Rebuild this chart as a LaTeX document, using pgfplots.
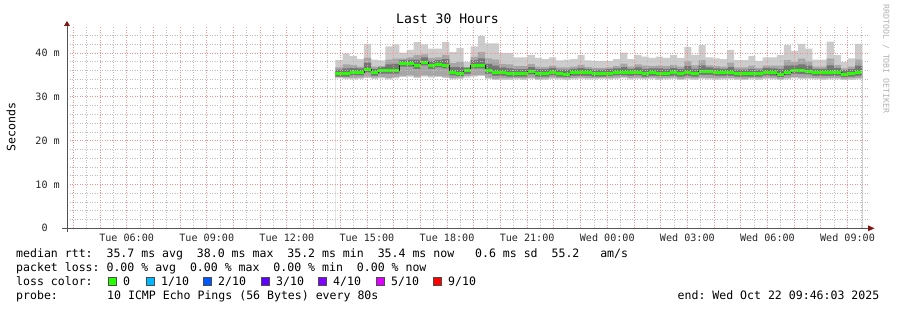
\documentclass[border=0pt]{standalone}
\usepackage{fontspec}
\setmainfont{DejaVu Sans Mono}
\usepackage{pgfplots}
\usepackage{pgfplotstable}
\pgfplotsset{compat=1.18}
\definecolor{smokeA}{RGB}{204,204,204}
\definecolor{smokeB}{RGB}{166,166,166}
\definecolor{smokeC}{RGB}{118,118,118}
\definecolor{lossgreen}{RGB}{38,255,0}
\definecolor{loss1}{RGB}{0,184,255}
\definecolor{loss2}{RGB}{0,89,255}
\definecolor{loss3}{RGB}{94,0,255}
\definecolor{loss4}{RGB}{126,0,255}
\definecolor{loss5}{RGB}{221,0,255}
\definecolor{loss9}{RGB}{255,0,0}
\definecolor{mgrid}{RGB}{245,145,145}
\definecolor{mingrid}{RGB}{190,190,190}
\definecolor{arrowred}{RGB}{128,24,24}
\definecolor{axisgray}{RGB}{85,85,85}
\newcommand{\legfont}{\fontsize{11.55bp}{14bp}\selectfont}
\newcommand{\tickfont}{\fontsize{10.1bp}{12bp}\selectfont}
\newcommand{\titlefont}{\fontsize{13.1bp}{15bp}\selectfont}
\newcommand{\tinyfont}{\fontsize{8.2bp}{10bp}\selectfont}

\pgfplotstableread{
t hi1 hi2 hi3 med lo3 lo2 lo1
13.820 38.4 36.7 36.2 35.3 34.6 34.5 34.2
14.087 39.9 37.4 36.5 35.3 34.6 34.4 34.1
14.353 39.3 37.3 36.6 35.6 34.9 34.3 34.0
14.620 38.6 36.9 36.5 35.6 34.9 34.4 34.1
14.887 42.1 38.9 37.8 36.3 35.6 34.6 34.3
15.153 38.5 36.9 36.4 35.5 34.8 34.4 34.1
15.420 38.3 37.0 36.8 36.0 35.3 34.5 34.2
15.687 41.5 38.5 37.4 36.0 35.3 34.3 34.0
15.953 42.0 38.7 37.5 36.0 35.3 34.5 34.2
16.220 40.1 38.7 38.4 37.6 36.9 34.8 34.5
16.487 40.7 39.0 38.5 37.6 36.9 34.9 34.6
16.753 42.5 39.5 38.5 37.1 36.4 34.6 34.3
17.020 42.0 39.7 39.0 37.9 37.2 34.9 34.6
17.287 41.0 38.9 38.2 37.1 36.4 34.7 34.4
17.553 41.0 39.0 38.4 37.4 36.7 34.8 34.5
17.820 42.5 39.6 38.6 37.2 36.5 34.6 34.3
18.087 40.2 37.7 36.8 35.6 34.9 34.3 34.0
18.353 41.1 38.0 36.8 35.4 34.7 34.4 34.1
18.620 38.0 36.8 36.6 35.9 35.2 34.7 34.4
18.887 41.5 39.1 38.4 37.2 36.5 34.9 34.6
19.153 43.9 40.2 38.8 37.2 36.5 35.0 34.7
19.420 42.2 38.8 37.5 36.0 35.3 34.4 34.1
19.687 42.2 38.5 37.1 35.5 34.8 34.1 33.8
19.953 40.0 37.5 36.7 35.5 34.8 34.2 33.9
20.220 40.0 37.4 36.5 35.3 34.6 34.2 33.9
20.487 39.0 37.0 36.3 35.3 34.6 34.3 34.0
20.753 39.0 37.0 36.3 35.3 34.6 34.2 33.9
21.020 39.5 37.5 36.8 35.8 35.1 34.4 34.1
21.287 38.9 36.9 36.3 35.3 34.6 34.1 33.8
21.553 38.6 36.8 36.3 35.3 34.6 34.2 33.9
21.820 39.0 37.1 36.6 35.6 34.9 34.4 34.1
22.087 38.3 36.7 36.2 35.3 34.6 34.3 34.0
22.353 38.5 36.7 36.2 35.2 34.5 34.2 33.9
22.620 38.6 36.9 36.4 35.5 34.8 34.3 34.0
22.887 39.5 37.3 36.6 35.5 34.8 34.4 34.1
23.153 38.3 36.8 36.4 35.5 34.8 34.3 34.0
23.420 38.2 36.6 36.2 35.3 34.6 34.3 34.0
23.687 38.2 36.6 36.2 35.3 34.6 34.4 34.1
23.953 38.2 36.7 36.3 35.4 34.7 34.3 34.0
24.220 38.6 37.0 36.5 35.6 34.9 34.4 34.1
24.487 40.1 37.6 36.8 35.6 34.9 34.5 34.2
24.753 38.6 36.9 36.4 35.5 34.8 34.3 34.0
25.020 39.5 37.4 36.7 35.6 34.9 34.4 34.1
25.287 39.2 37.1 36.4 35.3 34.6 34.3 34.0
25.553 38.9 37.0 36.5 35.5 34.8 34.4 34.1
25.820 39.2 37.1 36.5 35.4 34.7 34.2 33.9
26.087 38.9 37.0 36.4 35.4 34.7 34.3 34.0
26.353 39.5 37.3 36.6 35.5 34.8 34.4 34.1
26.620 38.9 36.9 36.3 35.3 34.6 34.1 33.8
26.887 41.4 38.2 37.0 35.5 34.8 34.3 34.0
27.153 39.5 37.2 36.4 35.3 34.6 34.2 33.9
27.420 41.8 38.4 37.2 35.7 35.0 34.4 34.1
27.687 39.0 37.2 36.7 35.7 35.0 34.3 34.0
27.953 38.8 37.0 36.5 35.5 34.8 34.2 33.9
28.220 38.6 36.9 36.4 35.5 34.8 34.3 34.0
28.487 40.7 37.8 36.8 35.5 34.8 34.3 34.0
28.753 38.4 36.7 36.2 35.3 34.6 34.2 33.9
29.020 38.4 36.7 36.2 35.3 34.6 34.1 33.8
29.287 39.3 37.1 36.4 35.3 34.6 34.3 34.0
29.553 38.2 36.6 36.2 35.3 34.6 34.2 33.9
29.820 39.0 37.1 36.6 35.6 34.9 34.4 34.1
30.087 39.0 37.1 36.5 35.5 34.8 34.3 34.0
30.353 39.5 37.1 36.4 35.2 34.5 34.1 33.8
30.620 41.8 38.4 37.1 35.6 34.9 34.3 34.0
30.887 40.5 38.0 37.2 36.0 35.3 34.5 34.2
31.153 42.1 38.7 37.4 35.9 35.2 34.4 34.1
31.420 41.0 38.1 37.1 35.8 35.1 34.4 34.1
31.687 38.5 36.9 36.4 35.5 34.8 34.3 34.0
31.953 38.5 36.9 36.4 35.5 34.8 34.2 33.9
32.220 42.6 38.7 37.2 35.5 34.8 34.3 34.0
32.487 39.5 37.3 36.6 35.5 34.8 34.3 34.0
32.753 38.0 36.5 36.1 35.2 34.5 34.1 33.8
33.020 38.8 36.9 36.3 35.3 34.6 34.2 33.9
33.287 42.1 38.5 37.1 35.5 34.8 34.3 34.0
33.553 42.1 38.5 37.1 35.5 34.8 34.3 34.0
}\smoke

\begin{document}
\frenchspacing
\begin{tikzpicture}
\path[use as bounding box] (0,0) rectangle (897bp,310bp);
\begin{axis}[
  at={(67bp,81.7bp)}, anchor=south west,
  scale only axis, width=801bp, height=202bp,
  xmin=3.767, xmax=33.767, ymin=0, ymax=46.1,
  axis line style={draw=none},
  xtick={6,9,...,33},
  xticklabels={Tue 06:00,Tue 09:00,Tue 12:00,Tue 15:00,Tue 18:00,Tue 21:00,Wed 00:00,Wed 03:00,Wed 06:00,Wed 09:00},
  ytick={0,10,20,30,40},
  yticklabels={0\hphantom{\ m},10 m,20 m,30 m,40 m},
  major tick length=0pt, minor tick length=0pt,
  xticklabel style={font=\tickfont, anchor=base, inner sep=0pt, yshift=-13.5bp, text=black!85},
  yticklabel style={font=\tickfont, anchor=base east, inner sep=0pt, xshift=-7bp, yshift=-3.6bp, text=black!85},
]
% layered smoke: fills from the baseline, later fills overwrite the lower part
\addplot[const plot, fill=smokeA, draw=none] table[x=t,y=hi1]{\smoke} \closedcycle;
\addplot[const plot, fill=smokeB, draw=none] table[x=t,y=hi2]{\smoke} \closedcycle;
\addplot[const plot, fill=smokeC, draw=none] table[x=t,y=hi3]{\smoke} \closedcycle;
\addplot[const plot, fill=smokeB, draw=none] table[x=t,y=lo3]{\smoke} \closedcycle;
\addplot[const plot, fill=smokeA, draw=none] table[x=t,y=lo2]{\smoke} \closedcycle;
\addplot[const plot, fill=white, draw=none] table[x=t,y=lo1]{\smoke} \closedcycle;
\addplot[const plot, draw=black!85, line width=0.8bp] table[x=t,y=med]{\smoke};
\addplot[jump mark left, draw=lossgreen, line width=3bp] table[x=t,y=med]{\smoke};
% grid drawn on top, as rrdtool does
\pgfplotsinvokeforeach{4.5,5.5,...,33.5}{
  \draw[draw=mingrid, line width=0.7bp, dash pattern=on 1bp off 1.5bp] (axis cs:#1,0) -- (axis cs:#1,46.1);
}
\pgfplotsinvokeforeach{2,4,6,8,12,14,16,18,22,24,26,28,32,34,36,38,42,44}{
  \draw[draw=mingrid, line width=0.7bp, dash pattern=on 1bp off 1.5bp] (axis cs:3.767,#1) -- (axis cs:33.767,#1);
}
\pgfplotsinvokeforeach{4,5,...,33}{
  \draw[draw=mgrid, line width=0.8bp, dash pattern=on 1bp off 1.5bp] (axis cs:#1,0) -- (axis cs:#1,46.1);
}
\pgfplotsinvokeforeach{10,20,30,40}{
  \draw[draw=mgrid, line width=0.8bp, dash pattern=on 1bp off 1.5bp] (axis cs:3.767,#1) -- (axis cs:33.767,#1);
}
\end{axis}
% axis lines and arrows
\draw[axisgray, line width=1bp] (62bp,81.7bp) -- (868bp,81.7bp);
\draw[axisgray, line width=1bp] (67bp,77.5bp) -- (67bp,284bp);
\fill[arrowred] (868bp,78.7bp) -- (874.5bp,81.7bp) -- (868bp,84.7bp) -- cycle;
\fill[arrowred] (64bp,284bp) -- (67bp,289bp) -- (70bp,284bp) -- cycle;
% title and labels
\node[font=\titlefont, anchor=base, inner sep=0pt] at (447.5bp,286.2bp) {Last 30 Hours};
\node[font=\legfont, rotate=90, inner sep=0pt] at (11bp,183bp) {Seconds};
\node[font=\tinyfont, rotate=-90, inner sep=0pt, text=black!30] at (886bp,251bp) {RRDTOOL / TOBI OETIKER};
% legend
\node[font=\legfont, anchor=base west, inner sep=0pt] at (16bp,52.5bp) {median rtt:~~35.7 ms avg~~38.0 ms max~~35.2 ms min~~35.4 ms now~~~0.6 ms sd~~55.2~~~am/s};
\node[font=\legfont, anchor=base west, inner sep=0pt] at (16bp,38.5bp) {packet loss: 0.00 \% avg~~0.00 \% max~~0.00 \% min~~0.00 \% now};
\node[font=\legfont, anchor=base west, inner sep=0pt] at (16bp,24.3bp) {loss color:};
\filldraw[fill=lossgreen, draw=black!70, line width=0.6bp] (108bp,24.6bp) rectangle ++(8bp,8bp);
\filldraw[fill=loss1, draw=black!70, line width=0.6bp] (146bp,24.6bp) rectangle ++(8bp,8bp);
\filldraw[fill=loss2, draw=black!70, line width=0.6bp] (203bp,24.6bp) rectangle ++(8bp,8bp);
\filldraw[fill=loss3, draw=black!70, line width=0.6bp] (261bp,24.6bp) rectangle ++(8bp,8bp);
\filldraw[fill=loss4, draw=black!70, line width=0.6bp] (318bp,24.6bp) rectangle ++(8bp,8bp);
\filldraw[fill=loss5, draw=black!70, line width=0.6bp] (376bp,24.6bp) rectangle ++(8bp,8bp);
\filldraw[fill=loss9, draw=black!70, line width=0.6bp] (433bp,24.6bp) rectangle ++(8bp,8bp);
\node[font=\legfont, anchor=base west, inner sep=0pt] at (123bp,24.3bp) {0};
\node[font=\legfont, anchor=base west, inner sep=0pt] at (161bp,24.3bp) {1/10};
\node[font=\legfont, anchor=base west, inner sep=0pt] at (218bp,24.3bp) {2/10};
\node[font=\legfont, anchor=base west, inner sep=0pt] at (276bp,24.3bp) {3/10};
\node[font=\legfont, anchor=base west, inner sep=0pt] at (333bp,24.3bp) {4/10};
\node[font=\legfont, anchor=base west, inner sep=0pt] at (391bp,24.3bp) {5/10};
\node[font=\legfont, anchor=base west, inner sep=0pt] at (448bp,24.3bp) {9/10};
\node[font=\legfont, anchor=base west, inner sep=0pt] at (16bp,10.2bp) {probe:};
\node[font=\legfont, anchor=base west, inner sep=0pt] at (107bp,10.2bp) {10 ICMP Echo Pings (56 Bytes) every 80s};
\node[font=\legfont, anchor=base east, inner sep=0pt] at (879.5bp,10.2bp) {end: Wed Oct 22 09:46:03 2025};
\end{tikzpicture}
\end{document}
